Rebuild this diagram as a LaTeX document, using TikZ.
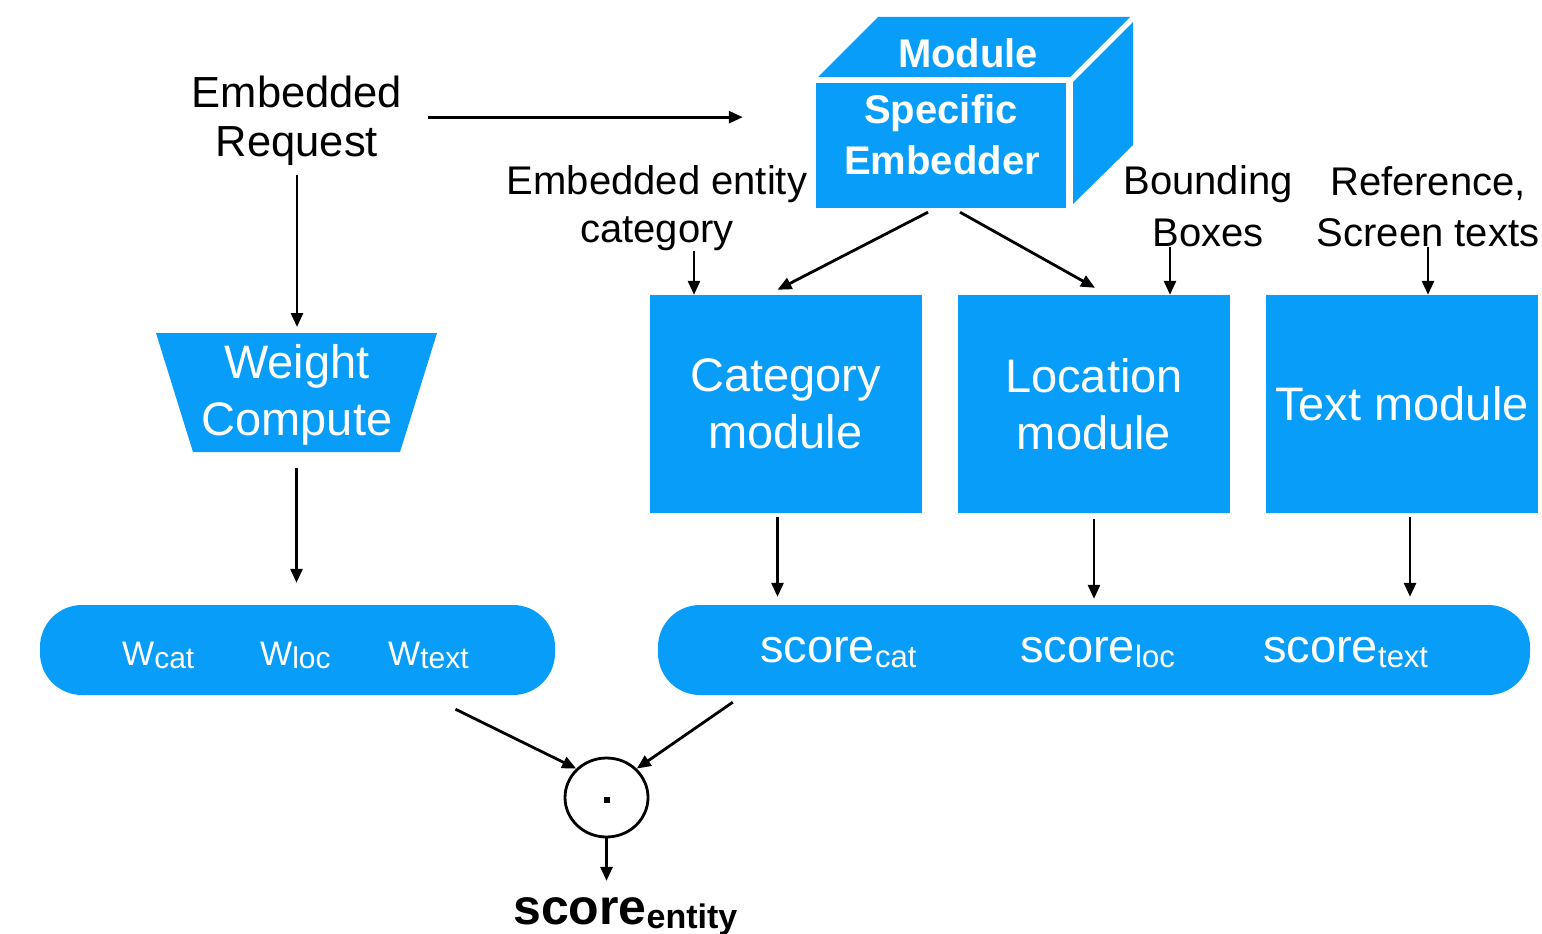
\documentclass[tikz,border=0pt]{standalone}
\usepackage{fontspec}
\setmainfont{Liberation Sans}
\usetikzlibrary{arrows.meta,shapes.geometric}
\definecolor{mblue}{RGB}{8,157,249}
\newcommand\wsub[1]{\raisebox{-3pt}{\fontsize{30}{30}\selectfont #1}}
\newcommand\ssub[1]{\raisebox{-5pt}{\fontsize{31}{31}\selectfont #1}}
\begin{document}
\begin{tikzpicture}[x=1pt,y=-1pt,
  arr/.style={-{Triangle[length=14pt,width=12pt]}, line width=2.8pt},
  lab/.style={font=\fontsize{40}{48}\selectfont, inner sep=0pt},
  rlab/.style={font=\fontsize{43.5}{50}\selectfont, inner sep=0pt},
  wtxt/.style={text=white, font=\fontsize{47}{56}\selectfont, inner sep=0pt},
  ctxt/.style={text=white, font=\bfseries\fontsize{40}{48}\selectfont, inner sep=0pt},
  modbox/.style={fill=mblue, text=white, font=\fontsize{47}{57}\selectfont, align=center,
                 minimum width=272pt, minimum height=218pt, inner sep=0pt},
  pill/.style={fill=mblue, rounded corners=42pt, minimum height=90pt, inner sep=0pt},
  wl/.style={text=white, anchor=base west, inner sep=0pt, font=\fontsize{34}{34}\selectfont},
  sl/.style={text=white, anchor=base west, inner sep=0pt, font=\fontsize{47}{47}\selectfont},
]
\useasboundingbox[fill=white] (0,0) rectangle (1542,934);

% ---- cube: Module Specific Embedder
\fill[mblue] (818,77) -- (878,17) -- (1130,17) -- (1070,77) -- cycle;
\fill[mblue] (1073,82) -- (1133,22) -- (1133,145) -- (1073,204) -- cycle;
\node[fill=mblue, minimum width=250pt, minimum height=125pt, inner sep=0pt] (emb) at (941,145.5) {};
\node[ctxt] (mod) at (968,53) {Module};
\node[ctxt] (sp1) at (941,113) {Specific};
\node[ctxt] (sp2) at (942,160) {Embedder};

% ---- labels
\node[rlab] (req1) at (297,92) {Embedded};
\node[rlab] (req2) at (297,146) {Request};
\node[lab] (ent1) at (657,184) {Embedded entity};
\node[lab] (ent2) at (657,234) {category};
\node[lab] (bb1) at (1208,184) {Bounding};
\node[lab] (bb2) at (1208,233) {Boxes};
\node[lab] (rf1) at (1428,184) {Reference,};
\node[lab] (rf2) at (1428,233) {Screen texts};

% ---- weight compute
\fill[mblue] (156,333) -- (437,333) -- (400,452) -- (193,452) -- cycle;
\coordinate (wcn) at (296.5,333);
\coordinate (wcs) at (296.5,452);
\node[wtxt] (wc1) at (297,366) {Weight};
\node[wtxt] (wc2) at (297,424) {Compute};

% ---- modules
\node[modbox] (cat) at (785.5,404) {Category\\module};
\node[modbox] (loc) at (1094,404) {Location\\module};
\node[modbox] (txt) at (1402,404) {Text module};

% ---- pills
\node[pill, minimum width=515pt] (wp) at (297.5,650) {};
\node[pill, minimum width=872pt] (sp) at (1094,650) {};
\node[wl] (wcat) at (122,665) {W\wsub{cat}};
\node[wl] (wloc) at (260,665) {W\wsub{loc}};
\node[wl] (wtext) at (388,665) {W\wsub{text}};
\node[sl] (scat) at (760,662) {score\ssub{cat}};
\node[sl] (sloc) at (1020,662) {score\ssub{loc}};
\node[sl] (stext) at (1263,662) {score\ssub{text}};

% ---- product
\node[draw, line width=2.8pt, ellipse, minimum width=83pt, minimum height=79pt, inner sep=0pt] (circ) at (606.5,797.5) {};
\node[fill, minimum size=6pt, inner sep=0pt] (dotm) at (607,800) {};
\node[anchor=base west, inner sep=0pt] (se) at (513,924)
  {{\bfseries\fontsize{50}{50}\selectfont score}\raisebox{-4pt}{\bfseries\fontsize{34}{34}\selectfont entity}};

% ---- connectors
\draw[arr] ([shift={(131pt,-9pt)}]req1.south) -- ([shift={(-73pt,-9pt)}]req1.south -| emb.west);
\draw[arr, shorten <=9pt, shorten >=6pt] (req2.south) -- (req2.south |- wcn);
\draw[arr, shorten <=16pt, shorten >=22pt] (wcs) -- (wcs |- wp.north);
\draw[arr] ([xshift=37pt]ent2.south) -- ([xshift=37pt]ent2.south |- cat.north);
\draw[arr] ([xshift=-38pt]bb2.south) -- ([xshift=-38pt]bb2.south |- loc.north);
\draw[arr] (rf2.south) -- (rf2.south |- txt.north);
\draw[arr] ([shift={(-13pt,-4pt)}]emb.south) -- ([shift={(-8pt,5pt)}]cat.north);
\draw[arr] ([shift={(19pt,-4pt)}]emb.south) -- ([shift={(1pt,7pt)}]loc.north);
\draw[arr, shorten <=4pt, shorten >=8pt] ([xshift=-8pt]cat.south) -- ([xshift=-8pt]cat.south |- sp.north);
\draw[arr, shorten <=6pt, shorten >=6pt] (loc.south) -- (loc.south |- sp.north);
\draw[arr, shorten <=4pt, shorten >=8pt] ([xshift=8pt]txt.south) -- ([xshift=8pt]txt.south |- sp.north);
\draw[arr] ([shift={(158pt,-14pt)}]wp.south) -- (circ.north west);
\draw[arr] ([shift={(75pt,-7pt)}]sp.south west) -- (circ.north east);
\draw[arr, shorten >=16pt] (circ.south) -- (circ.south |- se.north);
\end{tikzpicture}
\end{document}
